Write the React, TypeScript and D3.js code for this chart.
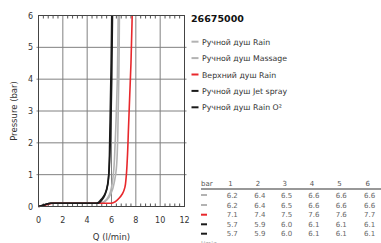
import React from "react";
import * as d3 from "d3";

const title = "26675000";
const seriesNames = [
  "Ручной душ Rain",
  "Ручной душ Massage",
  "Верхний душ Rain",
  "Ручной душ Jet spray",
  "Ручной душ Rain O²",
];
const seriesColors = ["#b3b3b3", "#b3b3b3", "#e8282c", "#1a1a1a", "#1a1a1a"];

// [Q (l/min), Pressure (bar)]
const rainCurve: [number, number][] = [
  [0, 0], [0.3, 0.03], [0.7, 0.08], [1.1, 0.1], [5.0, 0.1], [5.4, 0.15],
  [5.8, 0.35], [6.0, 0.6], [6.15, 1], [6.3, 2], [6.4, 3], [6.48, 4], [6.52, 5], [6.55, 6],
];
const massageCurve: [number, number][] = [
  [0, 0], [0.3, 0.03], [0.7, 0.08], [1.1, 0.1], [5.1, 0.1], [5.6, 0.2],
  [6.0, 0.45], [6.25, 0.8], [6.4, 1.2], [6.5, 2], [6.55, 3], [6.6, 4], [6.63, 5], [6.65, 6],
];
const topRainCurve: [number, number][] = [
  [0, 0], [0.4, 0.03], [0.8, 0.07], [1.2, 0.1], [6.0, 0.1], [6.3, 0.15],
  [6.6, 0.25], [6.9, 0.4], [7.1, 0.6], [7.2, 0.9], [7.3, 1.5], [7.4, 2.5],
  [7.5, 3.5], [7.6, 4.5], [7.7, 6],
];
const jetCurve: [number, number][] = [
  [0, 0], [0.3, 0.03], [0.7, 0.08], [1.0, 0.1], [4.8, 0.1], [5.1, 0.2],
  [5.4, 0.35], [5.6, 0.55], [5.75, 0.9], [5.85, 1.5], [5.9, 2], [5.97, 3],
  [6.02, 4], [6.05, 5], [6.08, 6],
];
const rainO2Curve: [number, number][] = [
  [0, 0], [0.3, 0.03], [0.7, 0.08], [1.0, 0.1], [4.9, 0.1], [5.2, 0.2],
  [5.5, 0.4], [5.7, 0.7], [5.8, 1.2], [5.85, 2], [5.9, 3], [5.97, 4.5], [6.02, 6],
];
const curves = [rainCurve, massageCurve, topRainCurve, jetCurve, rainO2Curve];

const xTicks = [0, 2, 4, 6, 8, 10, 12];
const yTicks = [0, 1, 2, 3, 4, 5, 6];
const tableHeader = ["1", "2", "3", "4", "5", "6"];
const tableRain = ["6.2", "6.4", "6.5", "6.6", "6.6", "6.6"];
const tableMassage = ["6.2", "6.4", "6.5", "6.6", "6.6", "6.6"];
const tableTopRain = ["7.1", "7.4", "7.5", "7.6", "7.6", "7.7"];
const tableJet = ["5.7", "5.9", "6.0", "6.1", "6.1", "6.1"];
const tableRainO2 = ["5.7", "5.9", "6.0", "6.1", "6.1", "6.1"];
const tableRows = [tableRain, tableMassage, tableTopRain, tableJet, tableRainO2];

const W = 381;
const H = 243;
const left = 38.5, right = 184.5, top = 15.5, bottom = 206.5;
const font = "DejaVu Sans, sans-serif";

export default function App() {
  const x = d3.scaleLinear().domain([0, 12]).range([left, right]);
  const y = d3.scaleLinear().domain([0, 6]).range([bottom, top]);
  const line = d3
    .line<[number, number]>()
    .x((d) => x(d[0]))
    .y((d) => y(d[1]))
    .curve(d3.curveMonotoneY);
  const minor = d3.range(0, 12.001, 0.4).filter((v) => Math.abs(v / 2 - Math.round(v / 2)) > 0.01);
  const colX = [226.7, 254.3, 281, 308.3, 335.7, 364];
  const rowY = [195, 205, 214.7, 224.3, 233.7];
  return (
    <svg
      width={W}
      height={H}
      style={{ position: "absolute", left: 0, top: 0, background: "#fff" }}
      fontFamily={font}
    >
      {/* grid */}
      {yTicks.slice(1, -1).map((t) => (
        <line key={"gy" + t} x1={left - 2} x2={right + 2} y1={y(t)} y2={y(t)} stroke="#808080" strokeWidth={1} />
      ))}
      {xTicks.slice(1, -1).map((t) => (
        <line key={"gx" + t} x1={x(t)} x2={x(t)} y1={top} y2={bottom} stroke="#808080" strokeWidth={1} />
      ))}
      {minor.map((t, i) => (
        <g key={"m" + i}>
          <line x1={x(t)} x2={x(t)} y1={top} y2={top + 3} stroke="#555" strokeWidth={1} />
          <line x1={x(t)} x2={x(t)} y1={bottom} y2={bottom - 3} stroke="#555" strokeWidth={1} />
        </g>
      ))}
      {/* curves */}
      {curves.map((c, i) => (
        <path key={"c" + i} d={line(c) || ""} fill="none" stroke={seriesColors[i]} strokeWidth={1.6} />
      ))}
      {/* frame */}
      <rect x={left} y={top} width={right - left} height={bottom - top} fill="none" stroke="#444" strokeWidth={1} />
      {yTicks.map((t) => (
        <text key={"yl" + t} x={33} y={y(t) + 3} fontSize={8} textAnchor="end" fill="#333">
          {t}
        </text>
      ))}
      {xTicks.map((t) => (
        <text key={"xl" + t} x={x(t)} y={223} fontSize={8} textAnchor="middle" fill="#333">
          {t}
        </text>
      ))}
      <text x={(left + right) / 2} y={240} fontSize={8.5} textAnchor="middle" fill="#333">
        Q (l/min)
      </text>
      <text
        transform={`translate(17,${(top + bottom) / 2}) rotate(-90)`}
        fontSize={8.5}
        textAnchor="middle"
        fill="#333"
      >
        Pressure (bar)
      </text>
      {/* legend */}
      <text x={191} y={22} fontSize={9.5} fontWeight="bold" fill="#111">
        {title}
      </text>
      {seriesNames.map((n, i) => {
        const cy = 41.7 + i * 16.4;
        return (
          <g key={"lg" + i}>
            <line x1={191.5} x2={198.5} y1={cy} y2={cy} stroke={seriesColors[i]} strokeWidth={2} />
            <text x={202} y={cy + 3} fontSize={7.8} fill="#333">
              {n}
            </text>
          </g>
        );
      })}
      {/* table */}
      <text x={201} y={186} fontSize={7} fill="#555">
        bar
      </text>
      {tableHeader.map((h, j) => (
        <text key={"th" + j} x={colX[j] + 1.5} y={186} fontSize={7} fill="#555">
          {h}
        </text>
      ))}
      <line x1={201} x2={381} y1={189} y2={189} stroke="#333" strokeWidth={1.2} />
      {tableRows.map((row, i) => (
        <g key={"tr" + i}>
          <line x1={201} x2={207} y1={rowY[i]} y2={rowY[i]} stroke={seriesColors[i]} strokeWidth={2} />
          {row.map((v, j) => (
            <text key={j} x={colX[j]} y={rowY[i] + 2.5} fontSize={7} fill="#666">
              {v}
            </text>
          ))}
        </g>
      ))}
      <text x={201} y={246} fontSize={6.5} fill="#999">
        l/min
      </text>
    </svg>
  );
}
